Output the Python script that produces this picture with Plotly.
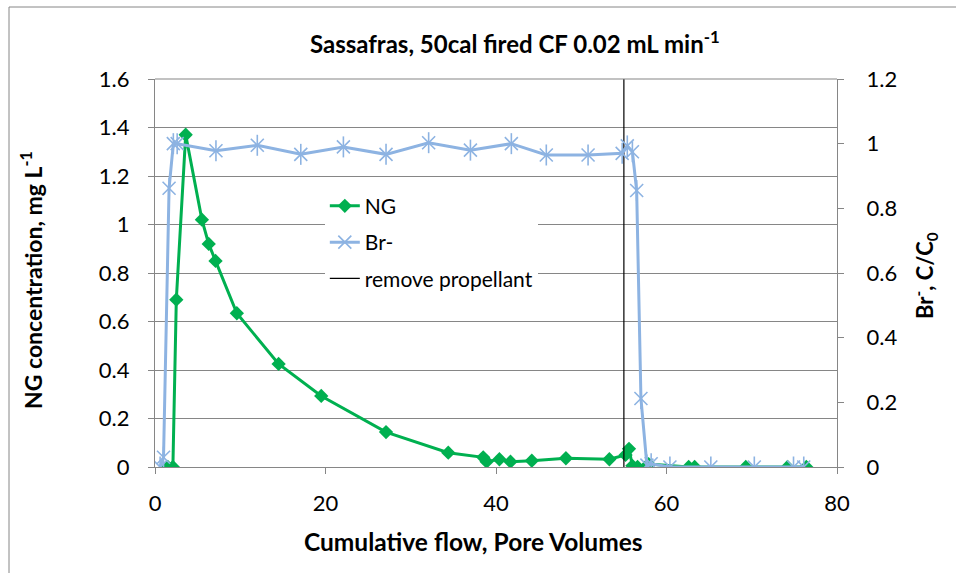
import plotly.graph_objects as go

# NG concentration (mg/L) vs cumulative pore volumes
ng_pv = [1.5, 2.1, 2.5, 3.6, 5.5, 6.3, 7.1, 9.6, 14.5, 19.5, 27.1, 34.4, 38.5, 38.9,
         40.4, 41.7, 44.2, 48.2, 53.3, 55.2, 55.6, 56.0, 56.6, 57.9, 62.6, 63.3,
         69.3, 74.2, 76.4]
ng_conc = [0, 0, 0.69, 1.37, 1.02, 0.92, 0.85, 0.634, 0.425, 0.293, 0.144, 0.059,
           0.04, 0.022, 0.032, 0.022, 0.026, 0.036, 0.032, 0.05, 0.075, 0.005, 0,
           0.012, 0, 0, 0, 0, 0]

# Bromide tracer, relative concentration C/C0
br_pv = [0.6, 1.0, 1.65, 2.15, 2.6, 7.15, 12.0, 17.1, 22.1, 27.1, 32.1, 37.0, 41.8,
         45.9, 50.8, 54.8, 55.4, 56.0, 56.5, 57.0, 57.7, 58.2, 60.4, 65.2, 70.3,
         74.9, 76.1]
br_rel = [0, 0.03, 0.862, 1.0, 1.0, 0.978, 0.995, 0.967, 0.99, 0.967, 1.003, 0.98,
          1.0, 0.965, 0.965, 0.97, 0.993, 0.975, 0.855, 0.212, 0.006, 0.01, 0, 0,
          0, 0, 0]

# Propellant removal time
remove_pv = [55, 55]
remove_y = [0, 1.6]

x_ticks = [0, 20, 40, 60, 80]
y_ticks = [0, 0.2, 0.4, 0.6, 0.8, 1.0, 1.2, 1.4, 1.6]
y2_ticks = [0, 0.2, 0.4, 0.6, 0.8, 1.0, 1.2]

GREEN = "#00B050"
BLUE = "#8DB3E2"
GRAY = "#868686"
FONT = "Lato, Carlito, 'Open Sans', sans-serif"

fig = go.Figure()

fig.add_trace(go.Scatter(
    x=ng_pv, y=ng_conc, name="NG", mode="lines+markers",
    line=dict(color=GREEN, width=3),
    marker=dict(symbol="diamond", size=11, color=GREEN),
    legendgroup="ng", legendrank=1,
))

fig.add_trace(go.Scatter(
    x=remove_pv, y=remove_y, name="remove propellant", mode="lines",
    line=dict(color="black", width=1.2),
    legendgroup="rm", legendrank=3,
))

fig.add_trace(go.Scatter(
    x=br_pv, y=br_rel, name="Br-", mode="lines+markers", yaxis="y2",
    line=dict(color=BLUE, width=3),
    marker=dict(symbol="x-thin-open", size=13, color=BLUE, line=dict(width=1.6)),
    legendgroup="br", legendrank=2,
))
# vertical strokes completing the star markers
fig.add_trace(go.Scatter(
    x=br_pv, y=br_rel, mode="markers", yaxis="y2", showlegend=False,
    marker=dict(symbol="line-ns-open", size=15, color=BLUE, line=dict(width=1.6)),
    legendgroup="br", hoverinfo="skip",
))

axis_common = dict(
    showline=True, linecolor=GRAY, linewidth=1.3,
    ticks="outside", ticklen=6, tickcolor=GRAY, tickwidth=1.3,
    tickfont=dict(family=FONT, size=22, color="black"),
    zeroline=False,
)

fig.update_layout(
    width=956, height=573,
    margin=dict(l=155, r=119, t=79, b=106),
    paper_bgcolor="white", plot_bgcolor="white",
    font=dict(family=FONT, color="black"),
    showlegend=True,
    legend=dict(
        x=0.249, y=0.725, xanchor="left", yanchor="top",
        bgcolor="white", borderwidth=0,
        font=dict(family=FONT, size=21, color="black"),
        traceorder="grouped", tracegroupgap=6,
    ),
    xaxis=dict(
        range=[0, 80], tickvals=x_ticks, showgrid=False,
        ticklabelstandoff=10, mirror=False, **axis_common,
    ),
    yaxis=dict(
        range=[0, 1.6], tickvals=y_ticks,
        ticktext=[f"{v:g}" for v in y_ticks],
        showgrid=True, gridcolor=GRAY, gridwidth=1.2,
        ticklabelstandoff=14, **axis_common,
    ),
    yaxis2=dict(
        range=[0, 1.2], tickvals=y2_ticks,
        ticktext=[f"{v:g}" for v in y2_ticks],
        overlaying="y", side="right", showgrid=False,
        ticklabelstandoff=18, **axis_common,
    ),
)

# top border of the plot area
fig.add_shape(type="line", xref="paper", yref="paper", x0=0, x1=1, y0=1, y1=1,
              line=dict(color=GRAY, width=1.2))

# chart frame
fig.add_shape(type="rect", xref="paper", yref="paper",
              x0=(9 - 155) / 682, x1=(970 - 155) / 682,
              y0=(467 - 590) / 388, y1=(467 - 7) / 388,
              line=dict(color=GRAY, width=1), layer="below")

fig.add_annotation(
    text="<b>Sassafras, 50cal fired CF 0.02 mL min<sup>-1</sup></b>",
    xref="paper", yref="paper", x=(515 - 155) / 682, y=(467 - 42) / 388,
    xanchor="center", yanchor="middle", showarrow=False,
    font=dict(family=FONT, size=24, color="black"),
)
fig.add_annotation(
    text="<b>Cumulative flow, Pore Volumes</b>",
    xref="paper", yref="paper", x=(473 - 155) / 682, y=(467 - 541) / 388,
    xanchor="center", yanchor="middle", showarrow=False,
    font=dict(family=FONT, size=24.5, color="black"),
)
fig.add_annotation(
    text="<b>NG concentration, mg L<sup>-1</sup></b>",
    xref="paper", yref="paper", x=(31 - 155) / 682, y=(467 - 280) / 388,
    xanchor="center", yanchor="middle", showarrow=False, textangle=-90,
    font=dict(family=FONT, size=23, color="black"),
)
fig.add_annotation(
    text="<b>Br<sup>-</sup>, C/C<sub>0</sub></b>",
    xref="paper", yref="paper", x=(925 - 155) / 682, y=(467 - 276) / 388,
    xanchor="center", yanchor="middle", showarrow=False, textangle=-90,
    font=dict(family=FONT, size=22, color="black"),
)

fig.write_html("out.html")
